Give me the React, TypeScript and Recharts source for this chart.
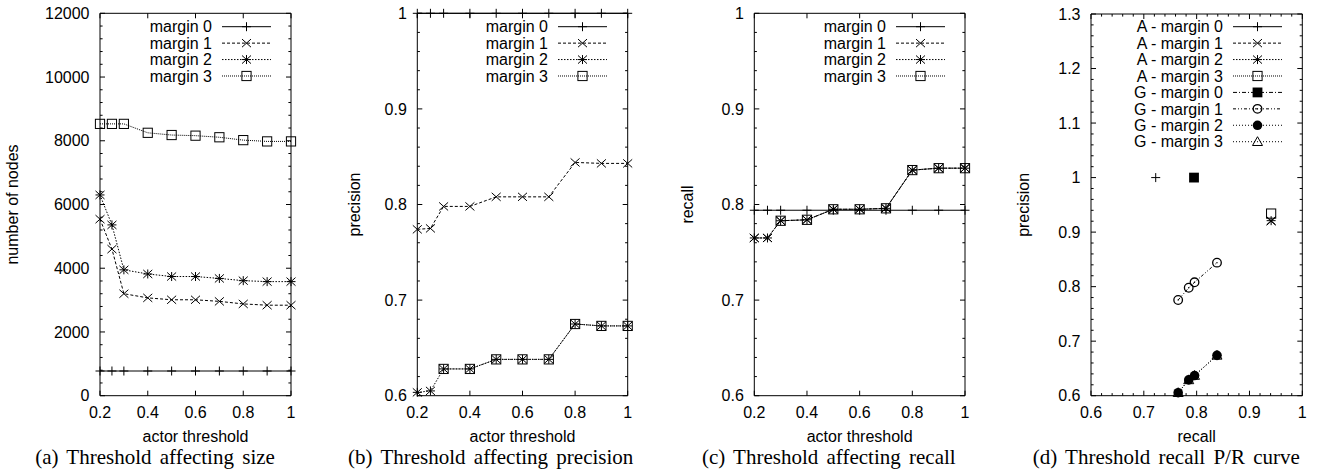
import React from 'react';
import { LineChart, Line, XAxis, YAxis, Legend, ScatterChart, Scatter } from 'recharts';

// ---------- data ----------
const thresholds = [0.2, 0.25, 0.3, 0.4, 0.5, 0.6, 0.7, 0.8, 0.9, 1.0];

const sizeMargin0 = [775, 775, 775, 775, 775, 775, 775, 775, 775, 775];
const sizeMargin1 = [5540, 4600, 3200, 3070, 3010, 3010, 2960, 2880, 2840, 2840];
const sizeMargin2 = [6300, 5360, 3950, 3820, 3740, 3740, 3680, 3610, 3580, 3580];
const sizeMargin3 = [8530, 8530, 8530, 8250, 8180, 8160, 8110, 8020, 7980, 7980];

const precisionMargin0 = [1, 1, 1, 1, 1, 1, 1, 1, 1, 1];
const precisionMargin1 = [0.774, 0.775, 0.798, 0.798, 0.808, 0.808, 0.808, 0.844, 0.843, 0.843];
const precisionMargin2 = [0.6035, 0.605, 0.628, 0.628, 0.638, 0.638, 0.638, 0.675, 0.673, 0.673];
const precisionMargin3 = [null, null, 0.628, 0.628, 0.638, 0.638, 0.638, 0.675, 0.673, 0.673];

const recallMargin0 = [0.794, 0.794, 0.794, 0.794, 0.794, 0.794, 0.794, 0.794, 0.794, 0.794];
const recallMargin1 = [0.765, 0.765, 0.783, 0.784, 0.795, 0.795, 0.796, 0.836, 0.838, 0.838];
const recallMargin2 = [0.765, 0.765, 0.783, 0.784, 0.795, 0.795, 0.796, 0.836, 0.838, 0.838];
const recallMargin3 = [null, null, 0.783, 0.784, 0.795, 0.795, 0.796, 0.836, 0.838, 0.838];

// P/R curve (d)
const prAMargin0Recall = [0.7225];
const prAMargin0Precision = [1.0];
const prAMargin1Recall = [0.941];
const prAMargin1Precision = [0.92];
const prAMargin2Recall = [0.941];
const prAMargin2Precision = [0.921];
const prAMargin3Recall = [0.941];
const prAMargin3Precision = [0.934];
const prGMargin0Recall = [0.795];
const prGMargin0Precision = [1.0];
const prGMargin1Recall = [0.765, 0.785, 0.796, 0.8385];
const prGMargin1Precision = [0.7755, 0.798, 0.808, 0.844];
const prGMargin2Recall = [0.765, 0.785, 0.796, 0.8385];
const prGMargin2Precision = [0.6055, 0.629, 0.637, 0.674];
const prGMargin3Recall = [0.765, 0.785, 0.796, 0.8385];
const prGMargin3Precision = [0.6055, 0.629, 0.637, 0.674];

// tick labels (major ticks)
const thresholdTicks = [0.2, 0.4, 0.6, 0.8, 1];
const sizeTicks = [0, 2000, 4000, 6000, 8000, 10000, 12000];
const rateTicks = [0.6, 0.7, 0.8, 0.9, 1];
const prRecallTicks = [0.6, 0.7, 0.8, 0.9, 1];
const prPrecisionTicks = [0.6, 0.7, 0.8, 0.9, 1, 1.1, 1.2, 1.3];

const marginNames = ['margin 0', 'margin 1', 'margin 2', 'margin 3'];
const prNames = [
  'A - margin 0', 'A - margin 1', 'A - margin 2', 'A - margin 3',
  'G - margin 0', 'G - margin 1', 'G - margin 2', 'G - margin 3',
];

// ---------- styles ----------
type MarkerKind = 'plus' | 'cross' | 'star' | 'square' | 'filledSquare' | 'circle' | 'filledCircle' | 'triangle';

const marginStyles: { dash?: string; marker: MarkerKind }[] = [
  { dash: undefined, marker: 'plus' },
  { dash: '3 2', marker: 'cross' },
  { dash: '1.5 1.5', marker: 'star' },
  { dash: '1 1', marker: 'square' },
];
const prStyles: { dash?: string; marker: MarkerKind }[] = [
  ...marginStyles,
  { dash: '4 2 1 2', marker: 'filledSquare' },
  { dash: '3 2 1 2 1 2', marker: 'circle' },
  { dash: '1 2', marker: 'filledCircle' },
  { dash: '1 2', marker: 'triangle' },
];

const SANS = '"Liberation Sans", Arial, Helvetica, sans-serif';
const SERIF = '"Liberation Serif", "Times New Roman", serif';
const H = 474;
const PLOT_BOTTOM = 395.7;
const X_AXIS_H = 30;
const Y_AXIS_W = 40;

function Marker({ kind, cx, cy }: { kind: MarkerKind; cx?: number; cy?: number }) {
  if (cx == null || cy == null || Number.isNaN(cx) || Number.isNaN(cy)) return <g />;
  const s = 4.5;
  const st = { stroke: '#000', strokeWidth: 1 };
  switch (kind) {
    case 'plus':
      return (
        <g {...st}>
          <line x1={cx - s} x2={cx + s} y1={cy} y2={cy} />
          <line x1={cx} x2={cx} y1={cy - s} y2={cy + s} />
        </g>
      );
    case 'cross':
      return (
        <g {...st}>
          <line x1={cx - s} x2={cx + s} y1={cy - s * 0.9} y2={cy + s * 0.9} />
          <line x1={cx - s} x2={cx + s} y1={cy + s * 0.9} y2={cy - s * 0.9} />
        </g>
      );
    case 'star':
      return (
        <g {...st}>
          <line x1={cx - s} x2={cx + s} y1={cy} y2={cy} />
          <line x1={cx} x2={cx} y1={cy - s} y2={cy + s} />
          <line x1={cx - s} x2={cx + s} y1={cy - s * 0.9} y2={cy + s * 0.9} />
          <line x1={cx - s} x2={cx + s} y1={cy + s * 0.9} y2={cy - s * 0.9} />
        </g>
      );
    case 'square':
      return <rect x={cx - 4.6} y={cy - 4.6} width={9.2} height={9.2} fill="none" {...st} />;
    case 'filledSquare':
      return <rect x={cx - 4.9} y={cy - 4.9} width={9.8} height={9.8} fill="#000" />;
    case 'circle':
      return (
        <g>
          <circle cx={cx} cy={cy} r={4.3} fill="none" stroke="#000" strokeWidth={1.3} />
          <circle cx={cx} cy={cy} r={0.7} fill="#000" />
        </g>
      );
    case 'filledCircle':
      return <circle cx={cx} cy={cy} r={4.8} fill="#000" />;
    case 'triangle':
      return (
        <polygon
          points={`${cx},${cy - 5} ${cx - 5},${cy + 3.8} ${cx + 5},${cy + 3.8}`}
          fill="none"
          {...st}
        />
      );
  }
  return <g />;
}

function withMinors(majors: number[], sub: number) {
  if (sub <= 1) return majors;
  const out: number[] = [];
  for (let i = 0; i < majors.length - 1; i++) {
    const a = majors[i];
    const b = majors[i + 1];
    for (let k = 0; k < sub; k++) out.push(a + ((b - a) * k) / sub);
  }
  out.push(majors[majors.length - 1]);
  return out;
}

const fmtNum = (v: number) => String(Math.round(v * 1000) / 1000);

// Bottom/left tick renderer; also draws the mirrored inward tick on the opposite frame side.
function tickRenderer(side: 'bottom' | 'left', majors: number[], span: number) {
  return (props: any) => {
    const { x, y, payload, index } = props;
    const v = payload.value as number;
    const major = majors.some((m) => Math.abs(m - v) < 1e-6);
    const len = major ? 5 : 2.6;
    const k = `t-${side}-${index}`;
    if (side === 'bottom') {
      return (
        <g key={k}>
          <line x1={x} x2={x} y1={y} y2={y - len} stroke="#000" />
          <line x1={x} x2={x} y1={y - span} y2={y - span + len} stroke="#000" />
          {major && (
            <text x={x} y={y + 22.4} textAnchor="middle" fontFamily={SANS} fontSize={16} fill="#000">
              {fmtNum(v)}
            </text>
          )}
        </g>
      );
    }
    return (
      <g key={k}>
        <line x1={x} x2={x + len} y1={y} y2={y} stroke="#000" />
        <line x1={x + span} x2={x + span - len} y1={y} y2={y} stroke="#000" />
        {major && (
          <text x={x - 10.5} y={y + 5.7} textAnchor="end" fontFamily={SANS} fontSize={16} fill="#000">
            {fmtNum(v)}
          </text>
        )}
      </g>
    );
  };
}

function LegendBox({ names, styles, width }: { names: string[]; styles: { dash?: string; marker: MarkerKind }[]; width: number }) {
  const rowH = 16.43;
  const h = names.length * rowH + 12;
  return (
    <svg width={width} height={h} style={{ display: 'block', overflow: 'visible' }}>
      {names.map((n, i) => {
        const cy = 16.7 + rowH * i;
        const st = styles[i];
        return (
          <g key={n}>
            <text x={width - 59} y={cy + 5.7} textAnchor="end" fontFamily={SANS} fontSize={16} fill="#000">
              {n}
            </text>
            <line x1={width - 49} x2={width} y1={cy} y2={cy} stroke="#000" strokeWidth={1} strokeDasharray={st.dash} />
            <Marker kind={st.marker} cx={width - 24.5} cy={cy} />
          </g>
        );
      })}
    </svg>
  );
}

type PanelGeom = { left: number; width: number; plotLeft: number; plotRight: number; plotTop: number };

function chartMargin(g: PanelGeom) {
  return {
    top: g.plotTop - 1,
    bottom: H - PLOT_BOTTOM - X_AXIS_H,
    left: g.plotLeft - g.left - Y_AXIS_W,
    right: g.left + g.width - g.plotRight - 1,
  };
}

function frameAxes(
  g: PanelGeom,
  xMajors: number[], xSub: number, xDomain: [number, number],
  yMajors: number[], ySub: number, yDomain: [number, number],
  xKey: string, yKey?: string,
) {
  const xt = withMinors(xMajors, xSub);
  const yt = withMinors(yMajors, ySub);
  const plotW = g.plotRight - g.plotLeft;
  const plotH = PLOT_BOTTOM - g.plotTop;
  return [
    <XAxis key="xb" xAxisId={0} type="number" dataKey={xKey} domain={xDomain} ticks={xt} interval={0}
      height={X_AXIS_H} tickSize={0} tickMargin={0} tickLine={false} axisLine={{ stroke: '#000' }}
      tick={tickRenderer('bottom', xMajors, plotH)} />,
    <XAxis key="xt" xAxisId="top" orientation="top" type="number" dataKey={xKey} domain={xDomain}
      allowDataOverflow height={1} tick={false} tickLine={false} axisLine={{ stroke: '#000' }} />,
    <YAxis key="yl" yAxisId={0} type="number" dataKey={yKey} domain={yDomain} ticks={yt} interval={0}
      width={Y_AXIS_W} tickSize={0} tickMargin={0} tickLine={false} axisLine={{ stroke: '#000' }}
      tick={tickRenderer('left', yMajors, plotW)} />,
    <YAxis key="yr" yAxisId="right" orientation="right" type="number" domain={yDomain}
      allowDataOverflow width={1} tick={false} tickLine={false} axisLine={{ stroke: '#000' }} />,
  ];
}

function ThresholdPanel({ geom, series, yMajors, yDomain }: {
  geom: PanelGeom;
  series: (number | null)[][];
  yMajors: number[];
  yDomain: [number, number];
}) {
  const data = thresholds.map((t, i) => {
    const row: Record<string, number | null> = { t };
    series.forEach((s, j) => (row[`m${j}`] = s[i]));
    return row;
  });
  const legendW = 200;
  const legendLeft = geom.plotRight - 20.3 - geom.left - legendW;
  return (
    <div style={{ position: 'absolute', left: geom.left, top: 0 }}>
      <LineChart width={geom.width} height={H} data={data} margin={chartMargin(geom)}>
        {frameAxes(geom, thresholdTicks, 1, [0.2, 1], yMajors, 5, yDomain, 't')}
        {series.map((_, j) => (
          <Line
            key={j}
            dataKey={`m${j}`}
            name={marginNames[j]}
            type="linear"
            stroke="#000"
            strokeWidth={1}
            strokeDasharray={marginStyles[j].dash}
            isAnimationActive={false}
            activeDot={false}
            connectNulls={false}
            dot={(p: any) => <Marker key={`d${j}-${p.index}`} kind={marginStyles[j].marker} cx={p.cx} cy={p.cy} />}
          />
        ))}
        <Legend
          layout="vertical"
          align="center"
          verticalAlign="middle"
          wrapperStyle={{ left: legendLeft, top: 10, width: legendW, height: 80 }}
          content={() => <LegendBox names={marginNames} styles={marginStyles} width={legendW} />}
        />
      </LineChart>
    </div>
  );
}

function PRPanel({ geom }: { geom: PanelGeom }) {
  const recalls = [prAMargin0Recall, prAMargin1Recall, prAMargin2Recall, prAMargin3Recall, prGMargin0Recall, prGMargin1Recall, prGMargin2Recall, prGMargin3Recall];
  const precisions = [prAMargin0Precision, prAMargin1Precision, prAMargin2Precision, prAMargin3Precision, prGMargin0Precision, prGMargin1Precision, prGMargin2Precision, prGMargin3Precision];
  const legendW = 230;
  const legendLeft = geom.plotRight - 20.3 - geom.left - legendW;
  return (
    <div style={{ position: 'absolute', left: geom.left, top: 0 }}>
      <ScatterChart width={geom.width} height={H} margin={chartMargin(geom)}>
        {frameAxes(geom, prRecallTicks, 5, [0.6, 1], prPrecisionTicks, 5, [0.6, 1.3], 'r', 'p')}
        {recalls.map((rs, j) => (
          <Scatter
            key={j}
            name={prNames[j]}
            data={rs.map((r, i) => ({ r, p: precisions[j][i] }))}
            isAnimationActive={false}
            line={rs.length > 1 ? { stroke: '#000', strokeWidth: 1, strokeDasharray: prStyles[j].dash } : false}
            shape={(p: any) => <Marker kind={prStyles[j].marker} cx={p.cx} cy={p.cy} />}
          />
        ))}
        <Legend
          layout="vertical"
          align="center"
          verticalAlign="middle"
          wrapperStyle={{ left: legendLeft, top: 10, width: legendW, height: 145 }}
          content={() => <LegendBox names={prNames} styles={prStyles} width={legendW} />}
        />
      </ScatterChart>
    </div>
  );
}

const geomA: PanelGeom = { left: 0, width: 330, plotLeft: 100, plotRight: 291, plotTop: 13.3 };
const geomB: PanelGeom = { left: 330, width: 330, plotLeft: 417.3, plotRight: 627.7, plotTop: 13.3 };
const geomC: PanelGeom = { left: 660, width: 330, plotLeft: 754.3, plotRight: 965, plotTop: 13.3 };
const geomD: PanelGeom = { left: 990, width: 330, plotLeft: 1091, plotRight: 1302.3, plotTop: 14 };

const panels = [
  { g: geomA, ylabel: 'number of nodes', ylabelX: 18.3, xlabel: 'actor threshold', caption: '(a) Threshold affecting size', capX: 155 },
  { g: geomB, ylabel: 'precision', ylabelX: 360, xlabel: 'actor threshold', caption: '(b) Threshold affecting precision', capX: 490.7 },
  { g: geomC, ylabel: 'recall', ylabelX: 693.3, xlabel: 'actor threshold', caption: '(c) Threshold affecting recall', capX: 828.8 },
  { g: geomD, ylabel: 'precision', ylabelX: 1028.5, xlabel: 'recall', caption: '(d) Threshold recall P/R curve', capX: 1166.3 },
];

export default function App() {
  return (
    <div style={{ position: 'absolute', left: 0, top: 0, width: 1320, height: H, background: '#fff', overflow: 'hidden' }}>
      <ThresholdPanel geom={geomA} series={[sizeMargin0, sizeMargin1, sizeMargin2, sizeMargin3]} yMajors={sizeTicks} yDomain={[0, 12000]} />
      <ThresholdPanel geom={geomB} series={[precisionMargin0, precisionMargin1, precisionMargin2, precisionMargin3]} yMajors={rateTicks} yDomain={[0.6, 1]} />
      <ThresholdPanel geom={geomC} series={[recallMargin0, recallMargin1, recallMargin2, recallMargin3]} yMajors={rateTicks} yDomain={[0.6, 1]} />
      <PRPanel geom={geomD} />
      <svg width={1320} height={H} style={{ position: 'absolute', left: 0, top: 0, pointerEvents: 'none' }}>
        {panels.map((p) => {
          const cx = (p.g.plotLeft + p.g.plotRight) / 2;
          const cy = (p.g.plotTop + PLOT_BOTTOM) / 2;
          return (
            <g key={p.caption}>
              <text transform={`translate(${p.ylabelX},${cy}) rotate(-90)`} textAnchor="middle" fontFamily={SANS} fontSize={16} fill="#000">
                {p.ylabel}
              </text>
              <text x={cx} y={442} textAnchor="middle" fontFamily={SANS} fontSize={16} fill="#000">
                {p.xlabel}
              </text>
              <text x={p.capX} y={464.3} textAnchor="middle" fontFamily={SERIF} fontSize={21} wordSpacing={3} fill="#000">
                {p.caption}
              </text>
            </g>
          );
        })}
      </svg>
    </div>
  );
}
